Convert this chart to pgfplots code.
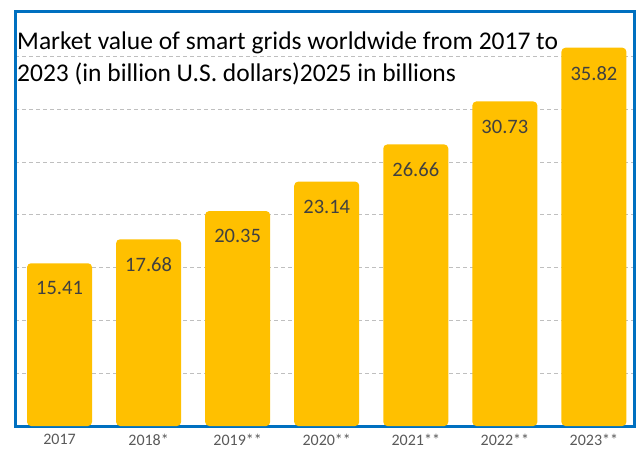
\documentclass[border=0pt]{standalone}
\usepackage{pgfplots}
\pgfplotsset{compat=1.18}
\usepackage{fontspec}
\setmainfont{Carlito}
\definecolor{barc}{HTML}{FFC000}
\definecolor{framec}{HTML}{0070C0}
\definecolor{labc}{HTML}{404040}
\definecolor{tickc}{HTML}{595959}
\definecolor{gridc}{HTML}{BFBFBF}
\begin{document}
\begin{tikzpicture}
\path[use as bounding box] (-15pt,-26pt) rectangle (629pt,426pt);
\begin{axis}[
  at={(0pt,0pt)}, anchor=south west,
  scale only axis, width=619pt, height=414pt,
  xmin=-0.5, xmax=6.45, ymin=0, ymax=39.2,
  axis line style={draw=framec, line width=3pt},
  xtick=data,
  xticklabels={2017,2018*,2019**,2020**,2021**,2022**,2023**},
  x tick label style={font=\fontsize{16}{18}\selectfont, text=tickc, yshift=-5pt},
  ytick={5,10,...,35}, yticklabels={},
  major tick length=0pt,
  ymajorgrids,
  grid style={gridc, dash pattern=on 4pt off 3pt, line width=0.8pt},
  nodes near coords,
  nodes near coords style={font=\fontsize{20.5}{22}\selectfont, text=labc, anchor=north, yshift=-15pt,
    /pgf/number format/.cd, fixed, fixed zerofill, precision=2},
  every node near coord/.append style={/pgf/number format/assume math mode=true},
]
\addplot[ybar, bar width=65pt, fill=barc, draw=none, rounded corners=4pt] coordinates {
 (0,15.41) (1,17.68) (2,20.35) (3,23.14) (4,26.66) (5,30.73) (6,35.82)};
\node[anchor=north west, align=left, font=\fontsize{25.5}{32}\selectfont, inner sep=0pt]
  at (rel axis cs:0,1) [xshift=2pt, yshift=-20pt]
  {Market value of smart grids worldwide from 2017 to\\2023 (in billion U.S. dollars)2025 in billions};
\end{axis}
\end{tikzpicture}
\end{document}
